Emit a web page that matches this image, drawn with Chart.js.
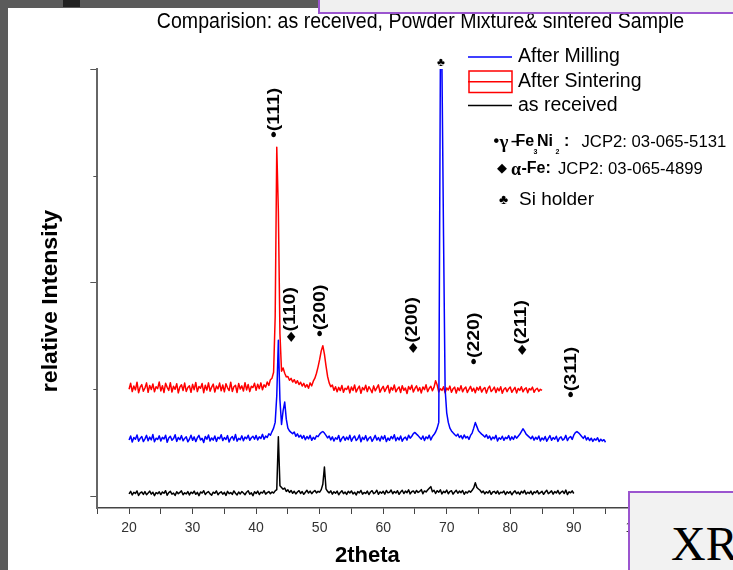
<!DOCTYPE html>
<html lang="en">
<head>
  <meta charset="UTF-8">
  <title>XRD comparison</title>
  <script src="https://cdn.jsdelivr.net/npm/chart.js"></script>
  <style>
    body { margin: 0; background: #fff; }
    #stage { position: relative; width: 733px; height: 570px; overflow: hidden; background: #fff; }
    #stage canvas { position: absolute; left: 0; top: 0; }
    .deco { position: absolute; pointer-events: none; box-sizing: content-box; }
  </style>
</head>
<body>
  <div id="stage">
    <canvas id="xrd" width="733" height="570"></canvas>
    <div class="deco" style="left:0;top:0;width:8px;height:570px;background:#5b5b5b"></div>
    <div class="deco" style="left:0;top:0;width:320px;height:8px;background:#5b5b5b"></div>
    <div class="deco" style="left:63px;top:0;width:17px;height:7px;background:#222"></div>
    <div class="deco" style="left:318px;top:-3px;width:430px;height:13px;background:#f0f0f0;border:2px solid #9b55cf"></div>
    <div class="deco" style="left:628px;top:491px;width:120px;height:90px;background:#f2f2f2;border:2px solid #9b55cf">
      <span style="position:absolute;left:41px;top:27px;font:48px/1 'Liberation Serif','Times New Roman',serif;color:#000">XR</span>
    </div>
  </div>

  <script>
    // scan grid (2theta, deg) shared by the three patterns
    const twoTheta = [
      20, 20.25, 20.5, 20.75, 21, 21.25, 21.5, 21.75, 22, 22.25, 22.5, 22.75, 23, 23.25, 23.5, 23.75, 24, 24.25, 24.5, 24.75,
      25, 25.25, 25.5, 25.75, 26, 26.25, 26.5, 26.75, 27, 27.25, 27.5, 27.75, 28, 28.25, 28.5, 28.75, 29, 29.25, 29.5, 29.75,
      30, 30.25, 30.5, 30.75, 31, 31.25, 31.5, 31.75, 32, 32.25, 32.5, 32.75, 33, 33.25, 33.5, 33.75, 34, 34.25, 34.5, 34.75,
      35, 35.25, 35.5, 35.75, 36, 36.25, 36.5, 36.75, 37, 37.25, 37.5, 37.75, 38, 38.25, 38.5, 38.75, 39, 39.25, 39.5, 39.75,
      40, 40.25, 40.5, 40.75, 41, 41.25, 41.5, 41.75, 42, 42.25, 42.5, 42.75, 43, 43.25, 43.5, 43.75, 44, 44.25, 44.5, 44.75,
      45, 45.25, 45.5, 45.75, 46, 46.25, 46.5, 46.75, 47, 47.25, 47.5, 47.75, 48, 48.25, 48.5, 48.75, 49, 49.25, 49.5, 49.75,
      50, 50.25, 50.5, 50.75, 51, 51.25, 51.5, 51.75, 52, 52.25, 52.5, 52.75, 53, 53.25, 53.5, 53.75, 54, 54.25, 54.5, 54.75,
      55, 55.25, 55.5, 55.75, 56, 56.25, 56.5, 56.75, 57, 57.25, 57.5, 57.75, 58, 58.25, 58.5, 58.75, 59, 59.25, 59.5, 59.75,
      60, 60.25, 60.5, 60.75, 61, 61.25, 61.5, 61.75, 62, 62.25, 62.5, 62.75, 63, 63.25, 63.5, 63.75, 64, 64.25, 64.5, 64.75,
      65, 65.25, 65.5, 65.75, 66, 66.25, 66.5, 66.75, 67, 67.25, 67.5, 67.75, 68, 68.25, 68.5, 68.75, 69, 69.25, 69.5, 69.75,
      70, 70.25, 70.5, 70.75, 71, 71.25, 71.5, 71.75, 72, 72.25, 72.5, 72.75, 73, 73.25, 73.5, 73.75, 74, 74.25, 74.5, 74.75,
      75, 75.25, 75.5, 75.75, 76, 76.25, 76.5, 76.75, 77, 77.25, 77.5, 77.75, 78, 78.25, 78.5, 78.75, 79, 79.25, 79.5, 79.75,
      80, 80.25, 80.5, 80.75, 81, 81.25, 81.5, 81.75, 82, 82.25, 82.5, 82.75, 83, 83.25, 83.5, 83.75, 84, 84.25, 84.5, 84.75,
      85, 85.25, 85.5, 85.75, 86, 86.25, 86.5, 86.75, 87, 87.25, 87.5, 87.75, 88, 88.25, 88.5, 88.75, 89, 89.25, 89.5, 89.75,
      90, 90.25, 90.5, 90.75, 91, 91.25, 91.5, 91.75, 92, 92.25, 92.5, 92.75, 93, 93.25, 93.5, 93.75, 94, 94.25, 94.5, 94.75,
      95
    ];

    // relative intensity, arbitrary units (offset stacks as plotted)
    const millingCounts = [
      262, 281, 253, 274, 266, 286, 257, 270, 279, 255, 268, 284, 259, 276, 263, 288, 254, 271, 265, 282,
      258, 275, 267, 285, 252, 272, 280, 261, 269, 287, 256, 274, 264, 283, 259, 270, 278, 254, 266, 285,
      261, 277, 255, 273, 284, 263, 270, 251, 279, 266, 286, 258, 272, 262, 281, 256, 275, 268, 287, 260,
      274, 265, 283, 253, 271, 279, 262, 288, 257, 270, 264, 282, 259, 276, 268, 285, 261, 273, 280, 266,
      284, 263, 277, 270, 289, 266, 281, 274, 292, 285, 302, 318, 345, 470, 730, 450, 335, 400, 440, 360,
      318, 305, 298, 292, 300, 280, 291, 276, 285, 270, 283, 264, 279, 268, 284, 261, 275, 266, 282, 278,
      290, 298, 302, 295, 284, 272, 281, 263, 277, 258, 273, 266, 284, 255, 270, 279, 261, 276, 264, 285,
      257, 272, 281, 260, 268, 286, 254, 275, 265, 283, 259, 271, 278, 256, 269, 284, 262, 274, 258, 280,
      266, 283, 255, 272, 261, 279, 268, 287, 259, 274, 263, 281, 257, 270, 276, 262, 285, 271, 280, 292,
      298, 290, 283, 274, 266, 281, 260, 277, 269, 285, 263, 279, 288, 300, 318, 345, 2010, 2010, 1217, 500,
      390, 345, 318, 305, 296, 288, 281, 290, 274, 283, 268, 286, 272, 279, 265, 284, 295, 318, 344, 325,
      306, 298, 290, 284, 276, 287, 270, 281, 263, 276, 268, 284, 258, 273, 266, 280, 261, 275, 269, 283,
      262, 277, 265, 282, 271, 280, 289, 302, 315, 304, 290, 283, 276, 268, 280, 262, 275, 266, 281, 258,
      272, 263, 279, 257, 270, 283, 261, 274, 266, 280, 256, 271, 277, 262, 268, 284, 260, 273, 279, 265,
      285, 297, 302, 296, 288, 279, 270, 282, 263, 274, 260, 271, 256, 268, 262, 273, 255, 266, 258, 264,
      252
    ];

    const sinterCounts = [
      500, 528, 489, 515, 497, 533, 484, 510, 522, 491, 506, 530, 486, 518, 499, 525, 488, 512, 503, 534,
      492, 517, 485, 528, 509, 495, 531, 487, 514, 500, 526, 483, 511, 521, 494, 529, 490, 508, 516, 486,
      523, 498, 532, 489, 513, 505, 527, 484, 519, 496, 530, 491, 510, 524, 487, 515, 502, 529, 493, 520,
      488, 526, 507, 494, 533, 490, 512, 519, 485, 527, 501, 516, 492, 531, 497, 522, 489, 514, 508, 528,
      495, 524, 503, 530, 498, 521, 510, 534, 518, 545, 552, 580, 840, 1634, 1335, 760, 585, 600, 575, 558,
      560, 542, 551, 534, 545, 528, 540, 522, 533, 515, 528, 510, 522, 505, 530, 516, 538, 552, 575, 605,
      640, 680, 704, 665, 610, 560, 530, 512, 520, 495, 512, 488, 509, 494, 518, 486, 505, 499, 515, 483,
      511, 494, 520, 487, 503, 515, 481, 508, 497, 519, 489, 512, 500, 484, 516, 493, 507, 521, 486, 502,
      514, 490, 505, 518, 483, 509, 496, 520, 488, 502, 511, 485, 517, 495, 506, 480, 513, 499, 519, 487,
      504, 516, 492, 508, 483, 511, 498, 521, 489, 505, 514, 493, 509, 540, 520, 487, 503, 495, 512, 484,
      506, 497, 515, 486, 502, 510, 482, 507, 494, 517, 488, 503, 511, 485, 500, 514, 491, 505, 484, 509,
      496, 513, 487, 501, 508, 482, 504, 515, 490, 498, 510, 485, 506, 493, 512, 481, 500, 507, 489, 503,
      511, 486, 498, 509, 483, 504, 495, 512, 488, 501, 507, 484, 503, 497, 510, 486, 499, 505, 490, 500,
      495, null, null, null, null, null, null, null, null, null, null, null, null, null, null, null, null, null, null, null,
      null, null, null, null, null, null, null, null, null, null, null, null, null, null, null, null, null, null, null, null,
      null
    ];

    const receivedCounts = [
      10, 22, 5, 17, 12, 24, 3, 15, 19, 8, 21, 6, 14, 23, 9, 18, 2, 16, 11, 20,
      7, 19, 13, 25, 4, 16, 22, 9, 14, 3, 20, 11, 17, 24, 6, 15, 10, 21, 5, 18,
      12, 23, 8, 17, 2, 19, 14, 25, 7, 16, 21, 10, 4, 18, 13, 24, 6, 15, 20, 9,
      17, 3, 22, 11, 16, 8, 24, 13, 5, 19, 10, 21, 14, 6, 18, 25, 9, 15, 2, 20,
      12, 23, 7, 18, 14, 25, 9, 16, 21, 11, 19, 14, 24, 30, 278, 48, 40, 32, 37, 22,
      29, 17, 26, 13, 22, 10, 19, 25, 12, 21, 8, 18, 27, 14, 23, 11, 20, 26, 15, 22,
      18, 30, 55, 136, 34, 22, 15, 24, 9, 20, 13, 23, 6, 17, 25, 11, 19, 8, 22, 14,
      24, 10, 18, 5, 21, 15, 26, 9, 17, 12, 23, 7, 19, 25, 11, 16, 27, 8, 20, 13,
      22, 9, 26, 15, 18, 28, 11, 21, 14, 25, 8, 19, 27, 12, 23, 16, 29, 10, 20, 24,
      13, 26, 17, 22, 30, 11, 24, 19, 28, 36, 44, 20, 27, 12, 25, 18, 29, 10, 22, 16,
      28, 11, 21, 25, 9, 19, 27, 13, 23, 16, 26, 8, 20, 14, 24, 18, 27, 38, 62, 40,
      33, 27, 16, 23, 10, 20, 14, 25, 8, 19, 22, 12, 24, 9, 18, 15, 23, 7, 20, 13,
      21, 6, 17, 24, 11, 19, 8, 22, 14, 26, 9, 18, 12, 23, 7, 20, 15, 25, 10, 16,
      22, 8, 19, 27, 11, 17, 24, 9, 21, 14, 26, 10, 18, 23, 12, 28, 7, 20, 15, 24,
      12, null, null, null, null, null, null, null, null, null, null, null, null, null, null, null, null, null, null, null,
      null
    ];

    const seriesNames = ['After Milling', 'After Sintering', 'as received'];
    const yMajorTicks = [0, 1000, 2000];
    const yMinorTicks = [500, 1500];

    // reflection labels: phase symbol, hkl, 2theta and intensity at the foot of the label
    const peakSymbol = ['•', '◆', '•', '◆', '•', '◆', '•'];
    const peakHkl = ['(111)', '(110)', '(200)', '(200)', '(220)', '(211)', '(311)'];
    const peakLabelAngle = [42.97, 45.49, 50.21, 64.7, 74.45, 81.8, 89.67];
    const peakLabelBase = [1677, 722, 745, 670, 614, 661, 459];
    const siMarkAngle = 69.1;
    const siMarkCounts = 2030;

    const titleText = 'Comparision: as received, Powder Mixture& sintered Sample';
    const SANS = '"Liberation Sans", Arial, sans-serif';
    const SERIF = '"Liberation Serif", "Times New Roman", serif';
    const SYMB = '"DejaVu Sans", sans-serif';

    function toPoints(xs, ys) {
      return xs.map((v, i) => ({ x: v, y: ys[i] }));
    }

    function drawText(ctx, text, px, py, font, align, baseline, sx, sy, rot) {
      ctx.save();
      ctx.translate(px, py);
      if (rot) ctx.rotate(rot);
      ctx.scale(sx || 1, sy || 1);
      ctx.font = font;
      ctx.fillStyle = '#000';
      ctx.textAlign = align;
      ctx.textBaseline = baseline;
      ctx.fillText(text, 0, 0);
      ctx.restore();
    }

    function drawPeakLabel(ctx, sym, hkl, px, py) {
      ctx.save();
      ctx.translate(px, py);
      ctx.rotate(-Math.PI / 2);
      ctx.scale(1.22, 1);
      ctx.fillStyle = '#000';
      ctx.textAlign = 'left';
      ctx.textBaseline = 'middle';
      ctx.font = sym === '◆' ? '11px ' + SYMB : 'bold 16px ' + SANS;
      ctx.fillText(sym, 0, 0);
      const w = ctx.measureText(sym).width;
      ctx.font = 'bold 16px ' + SANS;
      ctx.fillText(hkl, w, 0);
      ctx.restore();
    }

    const extras = {
      id: 'extras',
      afterDraw(chart) {
        const ctx = chart.ctx;
        const xs = chart.scales.x;
        const ys = chart.scales.y;
        const left = chart.chartArea.left;

        drawText(ctx, titleText, 420.5, 28, '20px ' + SANS, 'center', 'alphabetic', 0.978, 1.12);
        drawText(ctx, 'relative Intensity', 57.3, 301, 'bold 22px ' + SANS, 'center', 'alphabetic', 1.05, 1, -Math.PI / 2);

        // short minor ticks on the intensity axis
        ctx.save();
        ctx.strokeStyle = '#555';
        ctx.lineWidth = 1;
        yMinorTicks.forEach(v => {
          const py = Math.round(ys.getPixelForValue(v)) + 0.5;
          ctx.beginPath();
          ctx.moveTo(left - 4, py);
          ctx.lineTo(left, py);
          ctx.stroke();
        });
        ctx.restore();

        // reflection markers
        peakHkl.forEach((t, i) => {
          drawPeakLabel(ctx, peakSymbol[i], t,
            xs.getPixelForValue(peakLabelAngle[i]), ys.getPixelForValue(peakLabelBase[i]));
        });
        drawText(ctx, '♣', xs.getPixelForValue(siMarkAngle), ys.getPixelForValue(siMarkCounts),
          'bold 12px ' + SANS, 'center', 'middle');

        // legend
        const rows = [57, 81.7, 105.5];
        chart.data.datasets.forEach((ds, i) => {
          ctx.save();
          ctx.strokeStyle = ds.borderColor;
          ctx.lineWidth = 1.5;
          ctx.beginPath();
          ctx.moveTo(468, rows[i]);
          ctx.lineTo(512, rows[i]);
          ctx.stroke();
          if (i === 1) ctx.strokeRect(469, 71, 43, 21.5);
          ctx.restore();
          drawText(ctx, ds.label, 518, rows[i], '19.5px ' + SANS, 'left', 'middle');
        });

        // phase key
        drawText(ctx, '•', 493.5, 142, 'bold 16px ' + SANS, 'left', 'middle');
        drawText(ctx, 'γ', 499.5, 143, 'bold 19px ' + SERIF, 'left', 'middle');
        drawText(ctx, '–', 511, 142, 'bold 15px ' + SANS, 'left', 'middle');
        drawText(ctx, 'Fe', 515.5, 142, 'bold 16px ' + SANS, 'left', 'middle');
        drawText(ctx, '3', 533.5, 152, 'bold 7px ' + SANS, 'left', 'middle');
        drawText(ctx, 'Ni', 537, 142, 'bold 16px ' + SANS, 'left', 'middle');
        drawText(ctx, '2', 555.5, 152, 'bold 7px ' + SANS, 'left', 'middle');
        drawText(ctx, ':', 564, 142, 'bold 16px ' + SANS, 'left', 'middle');
        drawText(ctx, 'JCP2: 03-065-5131', 581.5, 142, '16.7px ' + SANS, 'left', 'middle');

        drawText(ctx, '◆', 497, 169, '13px ' + SYMB, 'left', 'middle');
        drawText(ctx, 'α', 511, 170, 'bold 18px ' + SERIF, 'left', 'middle');
        drawText(ctx, '-Fe:', 521.5, 169, 'bold 16px ' + SANS, 'left', 'middle');
        drawText(ctx, 'JCP2: 03-065-4899', 558, 169, '16.7px ' + SANS, 'left', 'middle');

        drawText(ctx, '♣', 499, 200, '14px ' + SANS, 'left', 'middle');
        drawText(ctx, 'Si holder', 519, 200, '19px ' + SANS, 'left', 'middle');
      }
    };

    Chart.defaults.font.family = SANS;

    const ctx = document.getElementById('xrd').getContext('2d');
    const chart = new Chart(ctx, {
      type: 'line',
      data: {
        datasets: [
          { label: seriesNames[0], data: toPoints(twoTheta, millingCounts), borderColor: '#0000ff' },
          { label: seriesNames[1], data: toPoints(twoTheta, sinterCounts), borderColor: '#ff0000' },
          { label: seriesNames[2], data: toPoints(twoTheta, receivedCounts), borderColor: '#000000' }
        ]
      },
      options: {
        responsive: false,
        devicePixelRatio: 1,
        animation: false,
        datasets: {
          line: { borderWidth: 1.5, pointRadius: 0, tension: 0, borderJoinStyle: 'round', fill: false }
        },
        layout: { padding: { left: 0, top: 69, right: 95.7, bottom: 0 } },
        plugins: {
          legend: { display: false },
          title: { display: false },
          tooltip: { enabled: false }
        },
        scales: {
          x: {
            type: 'linear',
            min: 15,
            max: 100,
            afterFit: s => { s.height = 62; },
            ticks: {
              stepSize: 5,
              autoSkip: false,
              maxRotation: 0,
              padding: 6,
              color: '#333',
              font: { size: 14 },
              callback: v => (v % 10 === 0 ? v : '')
            },
            grid: { drawOnChartArea: false, drawTicks: true, tickLength: 6, color: '#444' },
            border: { color: '#444', width: 1.4 },
            title: {
              display: true,
              text: '2theta',
              color: '#000',
              font: { size: 22, weight: 'bold' },
              padding: { top: 0, bottom: 1 }
            }
          },
          y: {
            min: -56,
            max: 2000,
            afterFit: s => { s.width = 97.3; },
            afterBuildTicks: s => { s.ticks = yMajorTicks.map(v => ({ value: v })); },
            ticks: { display: false },
            grid: { drawOnChartArea: false, drawTicks: true, tickLength: 7, color: '#555' },
            border: { color: '#666', width: 2 }
          }
        }
      },
      plugins: [extras]
    });
  </script>
</body>
</html>
